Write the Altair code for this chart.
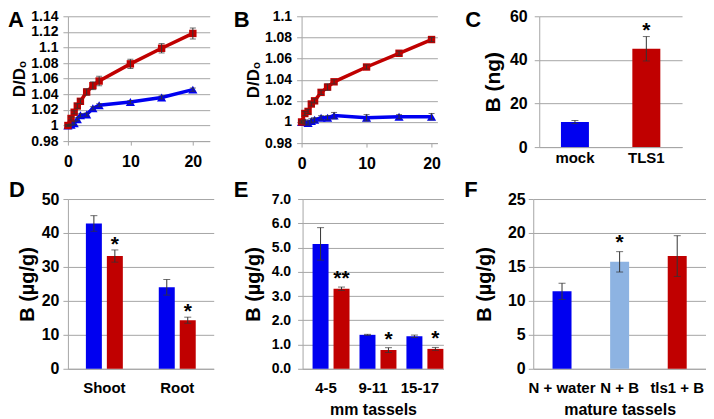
import altair as alt
import pandas as pd

FONT = "Liberation Sans"
RED = "#C00000"
BLUE = "#0000F0"
LBLUE = "#8DB3E2"
GRID = "#A6A6A6"
ERRC = "#333333"

# ---------------- data ----------------
time_pts = [0, 0.5, 1, 1.5, 2, 3, 4, 5, 10, 15, 20]

a_red = [1.000, 1.009, 1.017, 1.025, 1.031, 1.043, 1.051, 1.057, 1.079, 1.099, 1.118]
a_red_err = [0.001, 0.002, 0.002, 0.003, 0.003, 0.004, 0.005, 0.006, 0.006, 0.006, 0.007]
a_blue = [1.000, 1.001, 1.003, 1.008, 1.013, 1.014, 1.022, 1.026, 1.030, 1.036, 1.046]
a_blue_err = [0.001, 0.001, 0.002, 0.002, 0.002, 0.002, 0.002, 0.002, 0.002, 0.002, 0.002]
a_ticks = [0.98, 1.0, 1.02, 1.04, 1.06, 1.08, 1.1, 1.12, 1.14]

b_red = [1.000, 1.008, 1.010, 1.017, 1.020, 1.028, 1.033, 1.038, 1.052, 1.065, 1.078]
b_red_err = [0.001, 0.002, 0.002, 0.002, 0.002, 0.002, 0.003, 0.002, 0.002, 0.002, 0.002]
b_blue = [1.000, 1.000, 0.999, 1.001, 1.002, 1.004, 1.004, 1.006, 1.004, 1.005, 1.005]
b_blue_err = [0.001, 0.002, 0.002, 0.002, 0.002, 0.002, 0.002, 0.003, 0.003, 0.002, 0.003]
b_ticks = [0.98, 1.0, 1.02, 1.04, 1.06, 1.08, 1.1]

c_cats = ["mock", "TLS1"]
c_vals = [11.5, 45.1]
c_err = [0.7, 5.6]
c_cols = [BLUE, RED]
c_stars = ["", "*"]

d_cats = ["Shoot", "Root"]
d_blue = [42.8, 24.0]
d_blue_err = [2.3, 2.3]
d_red = [33.2, 14.3]
d_red_err = [1.8, 0.9]
d_stars = ["*", "*"]

e_cats = ["4-5", "9-11", "15-17"]
e_blue = [5.15, 1.40, 1.34]
e_blue_err = [0.67, 0.02, 0.05]
e_red = [3.30, 0.77, 0.82]
e_red_err = [0.07, 0.10, 0.06]
e_stars = ["**", "*", "*"]

f_cats = ["N + water", "N + B", "tls1 + B"]
f_vals = [11.4, 15.75, 16.6]
f_err = [1.2, 1.5, 3.0]
f_cols = [BLUE, LBLUE, RED]
f_stars = ["", "*", ""]


def letter_layer(ch, lx, ly):
    return alt.Chart(pd.DataFrame({"t": [ch]})).mark_text(
        font=FONT, fontWeight="bold", fontSize=22, align="left",
        baseline="alphabetic", color="black"
    ).encode(text="t:N", x=alt.value(lx), y=alt.value(ly))


def y_axis(values, fmt, title, lsize, tsize, lpad, tpad, tick=5):
    return alt.Axis(values=values, format=fmt, title=title, grid=True,
                    gridColor=GRID, gridWidth=1, domainColor=GRID,
                    tickColor=GRID, tickSize=tick, labelFontSize=lsize,
                    labelPadding=lpad, titleFontSize=tsize, titlePadding=tpad,
                    labelOverlap=False, labelFlush=False)


def line_panel(red, red_e, blue, blue_e, xmax, ydom, yticks, w, h, ch, lx, ly):
    rows = []
    for s, ys, es in (("blue", blue, blue_e), ("red", red, red_e)):
        for x, y, e in zip(time_pts, ys, es):
            rows.append(dict(x=x, y=y, lo=y - e, hi=y + e, s=s))
    df = pd.DataFrame(rows)
    xsc = alt.Scale(domain=[0, xmax], nice=False, zero=False)
    ysc = alt.Scale(domain=ydom, nice=False, zero=False)
    xax = alt.Axis(values=[0, 10, 20], grid=False, domainColor=GRID,
                   tickColor=GRID, tickSize=4, labelFontSize=16,
                   labelPadding=8, title=None, labelFlush=False)
    yax = y_axis(yticks, ".3~r", "D/D\u2092", 14, 17, 5, 2)

    def X(f):
        return alt.X(f"{f}:Q", scale=xsc, axis=xax)

    def Y(f):
        return alt.Y(f"{f}:Q", scale=ysc, axis=yax)

    layers = []
    for s, col, shape, size in (("blue", BLUE, "triangle-up", 85),
                                ("red", RED, "square", 55)):
        b = alt.Chart(df).transform_filter(alt.datum.s == s)
        layers.append(b.mark_line(color=col, strokeWidth=3.5).encode(x=X("x"), y=Y("y")))
        layers.append(b.mark_point(shape=shape, filled=True, size=size, color=col,
                                   opacity=1).encode(x=X("x"), y=Y("y")))
    e = alt.Chart(df)
    layers.append(e.mark_rule(color=ERRC, strokeWidth=1).encode(x=X("x"), y=Y("lo"), y2="hi:Q"))
    layers.append(e.mark_tick(orient="horizontal", color=ERRC, size=6, thickness=1)
                  .encode(x=X("x"), y=Y("lo")))
    layers.append(e.mark_tick(orient="horizontal", color=ERRC, size=6, thickness=1)
                  .encode(x=X("x"), y=Y("hi")))
    layers.append(letter_layer(ch, lx, ly))
    return alt.layer(*layers).properties(width=w, height=h)


def bar_panel(df, cats, grouped, pi, po, opi, w, h, ydom, yticks, fmt, ytitle,
              ylsize, ytsize, ylpad, ytpad, xlpad, xtitle, star_dy, ch, lx, ly):
    xax = alt.Axis(title=xtitle, labelAngle=0, ticks=False, tickSize=0,
                   domainColor=GRID, labelFontSize=15, labelPadding=xlpad,
                   titleFontSize=16, titlePadding=6)
    yax = y_axis(yticks, fmt, ytitle, ylsize, ytsize, ylpad, ytpad)
    X = alt.X("cat:N", sort=cats, scale=alt.Scale(paddingInner=pi, paddingOuter=po), axis=xax)
    ysc = alt.Scale(domain=ydom, nice=False, zero=True)

    def Y(f):
        return alt.Y(f"{f}:Q", scale=ysc, axis=yax)

    extra = {}
    if grouped:
        extra["xOffset"] = alt.XOffset("s:N", sort=["blue", "red"],
                                       scale=alt.Scale(paddingInner=opi, paddingOuter=0))
    base = alt.Chart(df)
    bars = base.mark_bar().encode(x=X, y=Y("v"), color=alt.Color("col:N", scale=None), **extra)
    rule = base.mark_rule(color=ERRC, strokeWidth=1).encode(x=X, y=Y("lo"), y2="hi:Q", **extra)
    cap1 = base.mark_tick(color=ERRC, size=7, thickness=1).encode(x=X, y=Y("lo"), **extra)
    cap2 = base.mark_tick(color=ERRC, size=7, thickness=1).encode(x=X, y=Y("hi"), **extra)
    stars = base.mark_text(font=FONT, fontWeight="bold", fontSize=21, baseline="alphabetic",
                           dy=star_dy, color="black").encode(x=X, y=Y("hi"), text="star:N", **extra)
    return alt.layer(bars, rule, cap1, cap2, stars, letter_layer(ch, lx, ly)).properties(width=w, height=h)


def grouped_df(cats, blue, blue_e, red, red_e, stars):
    rows = []
    for c, v, e in zip(cats, blue, blue_e):
        rows.append(dict(cat=c, s="blue", v=v, lo=v - e, hi=v + e, col=BLUE, star=""))
    for c, v, e, st in zip(cats, red, red_e, stars):
        rows.append(dict(cat=c, s="red", v=v, lo=v - e, hi=v + e, col=RED, star=st))
    return pd.DataFrame(rows)


def single_df(cats, vals, errs, cols, stars):
    return pd.DataFrame([dict(cat=c, s="x", v=v, lo=v - e, hi=v + e, col=cl, star=st)
                         for c, v, e, cl, st in zip(cats, vals, errs, cols, stars)])


pA = line_panel(a_red, a_red_err, a_blue, a_blue_err, 22.7, [0.98, 1.14], a_ticks,
                142, 125, "A", -60, 11)
pB = line_panel(b_red, b_red_err, b_blue, b_blue_err, 20.9, [0.98, 1.1], b_ticks,
                136, 127, "B", -68, 11)
pC = bar_panel(single_df(c_cats, c_vals, c_err, c_cols, c_stars), c_cats, False,
               0.608, 0.304, 0, 143, 131, [0, 60], [0, 20, 40, 60], "d", "B (ng)",
               16, 21, 7, 6, 3, None, 0, "C", -74, 11)
pD = bar_panel(grouped_df(d_cats, d_blue, d_blue_err, d_red, d_red_err, d_stars), d_cats, True,
               0.493, 0.2466, 0.238, 146, 170, [0, 50], [0, 10, 20, 30, 40, 50], "d",
               "B (\u00b5g/g)", 16, 20, 4, 4, 12, None, 1, "D", -59, -2)
pE = bar_panel(grouped_df(e_cats, e_blue, e_blue_err, e_red, e_red_err, e_stars), e_cats, True,
               0.4255, 0.2128, 0.0, 141, 170, [0, 7], [0, 1, 2, 3, 4, 5, 6, 7], ".1f",
               "B (\u00b5g/g)", 14, 20, 7, 8, 12, "mm tassels", -2, "E", -69, -2)
pF = bar_panel(single_df(f_cats, f_vals, f_err, f_cols, f_stars), f_cats, False,
               0.6705, 0.335, 0, 173, 170, [0, 25], [0, 5, 10, 15, 20, 25], "d",
               "B (\u00b5g/g)", 16, 20, 3, 13, 12, "mature tassels", -3, "F", -69, -2)

row1 = alt.hconcat(pA, pB, pC, spacing=24)
row2 = alt.hconcat(pD, pE, pF, spacing=20)

chart = alt.vconcat(row1, row2, spacing=8).properties(padding=0).configure_view(
    stroke=None
).configure_axis(
    labelFont=FONT, titleFont=FONT, labelFontWeight="bold", titleFontWeight="bold",
    labelColor="black", titleColor="black"
)

chart.save("out.html", embed_options={"renderer": "svg", "actions": False})
